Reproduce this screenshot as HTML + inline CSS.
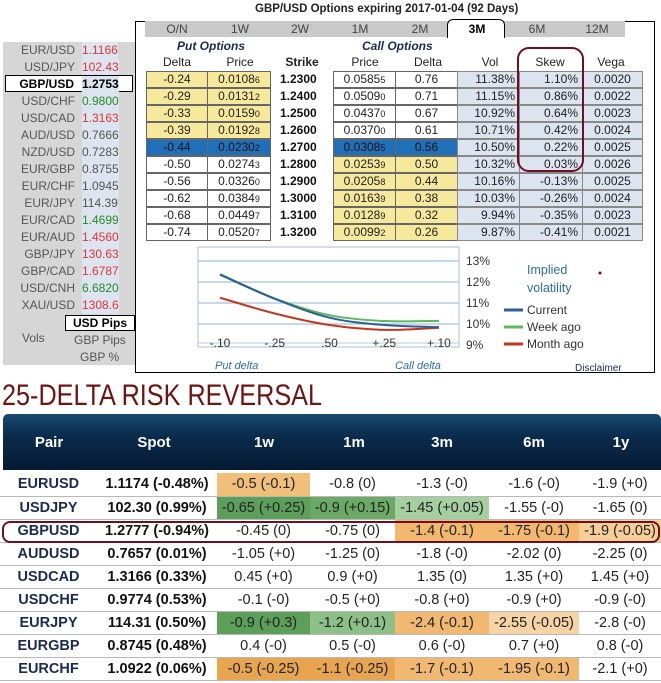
<!DOCTYPE html>
<html><head><meta charset="utf-8">
<style>
*{margin:0;padding:0;box-sizing:border-box}
body{width:661px;height:683px;background:#fff;position:relative;overflow:hidden;font-family:"Liberation Sans",Arial,sans-serif}
.a{position:absolute;white-space:nowrap}
#left{position:absolute;left:3px;top:42px;width:132px;height:323px;background:#d6d6d6}
.lp{position:absolute;font-size:12px;color:#555;line-height:17px}
.lp .n{position:absolute;right:62px;text-align:right}
.lp .v{position:absolute;left:79px}
.r{color:#e03535}.g{color:#2a8a2a}
#main{position:absolute;left:135px;top:21px;width:520px;height:352px;border:1.5px solid #000;border-top:1px solid #000}
#tabs{position:absolute;left:145px;top:21px;width:480px;height:16px;background:#c9c9c9}
.tab{position:absolute;top:22px;font-size:12px;color:#444;transform:translateX(-50%)}
.cell{position:absolute;height:17px;border:1px solid #666;font-size:12px;line-height:15px;color:#222;text-align:center}
.cell small{font-size:9px}
.y{background:#f7e99c}.w{background:#fff}.b{background:#1f70b8;color:#111}.v{background:#dce4ef;border-color:#888}
.hd{position:absolute;font-size:12px;color:#222;transform:translateX(-50%);top:55px}
table{position:absolute;left:0;top:473px;width:661px;border-collapse:collapse;table-layout:fixed}
td{height:23px;border-bottom:1px solid #b8b8b8;text-align:center;font-size:14.5px;color:#222;padding:0;white-space:nowrap;overflow:hidden}
td.p{font-weight:bold;color:#1b2a4e}
td.s{font-weight:bold;color:#111}
</style></head><body>
<div class="a" style="left:255px;top:3px;font-size:11.5px;font-weight:bold;color:#222">GBP/USD Options expiring 2017-01-04 (92 Days)</div>

<div id="left"></div>
<div id="rates"></div>
<div class="a" style="left:65px;top:315px;width:70px;height:16px;border:1px solid #000;background:#fff;font-size:12px;font-weight:bold;text-align:center;line-height:14px">USD Pips</div>
<div class="a" style="left:22px;top:331px;font-size:12px;color:#555">Vols</div>
<div class="a" style="left:74px;top:333px;font-size:12px;color:#555">GBP Pips</div>
<div class="a" style="left:80px;top:350px;font-size:12px;color:#555">GBP %</div>

<div id="main"></div>
<div id="tabs"></div>
<div class="a" style="left:447px;top:19px;width:58px;height:19px;background:#fff;border:1px solid #000;border-bottom:none;border-radius:6px 6px 0 0"></div>
<div id="tabtxt"></div>

<div class="a" style="left:177px;top:39px;font-size:12px;font-weight:bold;font-style:italic;color:#1b2a50">Put Options</div>
<div class="a" style="left:362px;top:39px;font-size:12px;font-weight:bold;font-style:italic;color:#1b2a50">Call Options</div>
<div id="hdrs"></div>
<div id="grid"></div>
<div class="a" style="left:517px;top:47px;width:67px;height:125px;border:2px solid #6a1020;border-radius:12px"></div>

<svg class="a" style="left:0;top:0" width="661" height="380">
 <g id="chart"></g>
 <text x="527" y="274" font-size="12.5" fill="#2e6ca4">Implied</text>
 <text x="527" y="292" font-size="12.5" fill="#2e6ca4">volatility</text>
 <circle cx="600" cy="273" r="1.5" fill="#6a1020"/>
 <text x="215" y="369" font-size="11" font-style="italic" fill="#2e6ca4">Put delta</text>
 <text x="395" y="369" font-size="11" font-style="italic" fill="#2e6ca4">Call delta</text>
 <text x="575" y="371" font-size="10" fill="#1b2a50">Disclaimer</text>
</svg>

<svg class="a" style="left:0;top:376px" width="340" height="34">
 <text x="2" y="29" font-size="30" fill="#6e1414" textLength="320" lengthAdjust="spacingAndGlyphs" font-family="Liberation Sans Narrow, Liberation Sans, sans-serif">25-DELTA RISK REVERSAL</text>
</svg>

<div class="a" style="left:3px;top:414px;width:658px;height:56px;border-radius:5px 5px 0 0;background:linear-gradient(#174a72,#0a2b4c 40%,#061a33)"></div>
<div id="rrh"></div>

<table>
<colgroup><col style="width:97px"><col style="width:120px"><col style="width:93px"><col style="width:85px"><col style="width:94px"><col style="width:90px"><col style="width:82px"></colgroup>
<tbody id="rrb"></tbody></table>
<div class="a" style="left:2px;top:521px;width:658px;height:22px;border:2px solid #6a1020;border-radius:8px"></div>

<script>
// left rates
const pairs=["EUR/USD","USD/JPY","GBP/USD","USD/CHF","USD/CAD","AUD/USD","NZD/USD","EUR/GBP","EUR/CHF","EUR/JPY","EUR/CAD","EUR/AUD","GBP/JPY","GBP/CAD","USD/CNH","XAU/USD"];
const rates=["1.1166","102.43","1.2753","0.9800","1.3163","0.7666","0.7283","0.8755","1.0945","114.39","1.4699","1.4560","130.63","1.6787","6.6820","1308.6"];
const rcls=["r","r","k","g","r","","","","","","g","r","r","r","g","r"];
const R=document.getElementById('rates');
pairs.forEach((p,i)=>{
 const d=document.createElement('div');d.className='lp';d.style.left='3px';d.style.top=(42+i*17)+'px';d.style.width='132px';d.style.height='17px';
 
 
 if(i===2){d.style.left='5px';d.style.width='128px';d.style.top='75px';d.style.background='#fff';d.style.border='1.5px solid #000';d.style.color='#000';d.style.fontWeight='bold';}
 d.innerHTML='<span class="n" style="right:'+(i===2?58:60)+'px">'+p+'</span><span class="v '+rcls[i]+'" style="left:'+(i===2?76:79)+'px">'+rates[i]+'</span>';
 R.appendChild(d);
});
// tabs
const tabs=["O/N","1W","2W","1M","2M","3M","6M","12M"],tx=[177,240,300,360,420,477,537,597];
const T=document.getElementById('tabtxt');
tabs.forEach((t,i)=>{const d=document.createElement('div');d.className='tab';d.style.left=tx[i]+'px';d.textContent=t;
 
 
 if(t==='3M'){d.style.fontWeight='bold';d.style.color='#000';}T.appendChild(d);});
// headers
const hs=["Delta","Price","Strike","Price","Delta","Vol","Skew","Vega"],hx=[177,240,302,365,428,490,550,611];
const H=document.getElementById('hdrs');
hs.forEach((h,i)=>{const d=document.createElement('div');d.className='hd';d.style.left=hx[i]+'px';d.textContent=h;
 
 
 if(i===2)d.style.fontWeight='bold';H.appendChild(d);});
// grid
const pD=["-0.24","-0.29","-0.33","-0.39","-0.44","-0.50","-0.56","-0.62","-0.68","-0.74"];
const pP=["0.0108|6","0.0131|2","0.0159|0","0.0192|8","0.0230|2","0.0274|3","0.0326|0","0.0384|9","0.0449|7","0.0520|7"];
const stk=["1.2300","1.2400","1.2500","1.2600","1.2700","1.2800","1.2900","1.3000","1.3100","1.3200"];
const cP=["0.0585|5","0.0509|0","0.0437|0","0.0370|0","0.0308|5","0.0253|9","0.0205|8","0.0163|9","0.0128|9","0.0099|2"];
const cD=["0.76","0.71","0.67","0.61","0.56","0.50","0.44","0.38","0.32","0.26"];
const vol=["11.38%","11.15%","10.92%","10.71%","10.50%","10.32%","10.16%","10.03%","9.94%","9.87%"];
const skew=["1.10%","0.86%","0.64%","0.42%","0.22%","0.03%","-0.13%","-0.26%","-0.35%","-0.41%"];
const vega=["0.0020","0.0022","0.0023","0.0024","0.0025","0.0026","0.0025","0.0024","0.0023","0.0021"];
const G=document.getElementById('grid');
function cell(x,w,y,cls,html,name,align){const d=document.createElement('div');d.className='cell '+cls;d.style.left=x+'px';d.style.top=y+'px';d.style.width=w+'px';d.innerHTML=html;
 if(align)d.style.textAlign=align;if(align==='right')d.style.paddingRight='4px';
 
 
 G.appendChild(d);}
const pr=s=>{const a=s.split('|');return a[0]+'<small>'+a[1]+'</small>';};
for(let i=0;i<10;i++){
 const y=71+i*17;
 const pc=i<4?'y':i===4?'b':'w', cc=i<4?'w':i===4?'b':'y';
 cell(146,62,y,pc,pD[i],'put-delta-'+i);
 cell(207,64,y,pc,pr(pP[i]),'put-price-'+i);
 const s=document.createElement('div');s.className='a';s.style.cssText='left:280px;top:'+(y+1)+'px;font-size:12px;font-weight:bold;color:#111';s.textContent=stk[i];
 
 
 G.appendChild(s);
 cell(333,63,y,cc,pr(cP[i]),'call-price-'+i);
 cell(395,63,y,cc,cD[i],'call-delta-'+i);
 cell(457,63,y,'v',vol[i],'vol-'+i,'right');
 cell(519,64,y,'v',skew[i],'skew-'+i,'right');
 cell(582,61,y,'v',vega[i],'vega-'+i);
}
// chart
const deltaLabels=["-.10","-.25",".50","+.25","+.10"];
const yTicks=[13,12,11,10,9];
const current=[12.35,11.2,10.3,9.95,9.85];
const weekAgo=[12.38,11.22,10.42,10.14,10.15];
const monthAgo=[11.25,10.5,9.95,9.72,9.82];
const NS='http://www.w3.org/2000/svg',C=document.getElementById('chart');
const X=i=>220+i*54.75, Y=v=>261+(13-v)*21;
function el(t,a){const e=document.createElementNS(NS,t);for(const k in a)e.setAttribute(k,a[k]);C.appendChild(e);return e;}
const box=el('rect',{x:198,y:247,width:261,height:100,fill:'#fff',stroke:'#a8bfd6','stroke-width':1});


yTicks.forEach(v=>{
 if(v>9){const l=el('line',{x1:198,x2:459,y1:Y(v),y2:Y(v),stroke:'#b5cbe0','stroke-width':1.5});
 
 }
 const t=el('text',{x:466,y:Y(v)+4,'font-size':12,fill:'#333'});t.textContent=v+'%';
 
 
});
el('line',{x1:198,x2:459,y1:Y(9)-2,y2:Y(9)-2,stroke:'#b5cbe0','stroke-width':1});
deltaLabels.forEach((d,i)=>{const t=el('text',{x:X(i),y:Y(9)+2,'font-size':12,fill:'#333','text-anchor':'middle'});t.textContent=d;
 
 });
function path(vals){const p=vals.map((v,i)=>[X(i),Y(v)]);let d='M'+p[0][0]+','+p[0][1];
 for(let i=0;i<p.length-1;i++){const p0=p[Math.max(0,i-1)],p1=p[i],p2=p[i+1],p3=p[Math.min(p.length-1,i+2)];
  d+=' C'+(p1[0]+(p2[0]-p0[0])/6)+','+(p1[1]+(p2[1]-p0[1])/6)+' '+(p2[0]-(p3[0]-p1[0])/6)+','+(p2[1]-(p3[1]-p1[1])/6)+' '+p2[0]+','+p2[1];}
 return d;}
const series=[[monthAgo,'#c0391f','month-ago-line'],[weekAgo,'#5cb85c','week-ago-line'],[current,'#2d5f96','current-line']];
series.forEach(s=>{const e=el('path',{d:path(s[0]),fill:'none',stroke:s[1],'stroke-width':2});
 
 });
const leg=[['Current','#2d5f96',310],['Week ago','#5cb85c',327],['Month ago','#c0391f',344]];
leg.forEach(l=>{el('line',{x1:504,x2:523,y1:l[2],y2:l[2],stroke:l[1],'stroke-width':3});
 const t=el('text',{x:527,y:l[2]+4,'font-size':12,fill:'#333'});t.textContent=l[0];
 
 });
// RR header
const rh=["Pair","Spot","1w","1m","3m","6m","1y"],rx=[49,154,264,354,442,534,621];
const RH=document.getElementById('rrh');
rh.forEach((h,i)=>{const d=document.createElement('div');d.className='a';d.style.cssText='left:'+rx[i]+'px;top:434px;transform:translateX(-50%);color:#fff;font-weight:bold;font-size:15px';d.textContent=h;
 
 RH.appendChild(d);});
const rows=[
["EURUSD","1.1174 (-0.48%)",["-0.5 (-0.1)","#f0bf7a"],["-0.8 (0)"],["-1.3 (-0)"],["-1.6 (-0)"],["-1.9 (+0)"]],
["USDJPY","102.30 (0.99%)",["-0.65 (+0.25)","#5b9f5b"],["-0.9 (+0.15)","#6aaa66"],["-1.45 (+0.05)","#a6cfa0"],["-1.55 (-0)"],["-1.65 (0)"]],
["GBPUSD","1.2777 (-0.94%)",["-0.45 (0)"],["-0.75 (0)"],["-1.4 (-0.1)","#f2b86e"],["-1.75 (-0.1)","#f2b86e"],["-1.9 (-0.05)","#f6cf98"]],
["AUDUSD","0.7657 (0.01%)",["-1.05 (+0)"],["-1.25 (0)"],["-1.8 (-0)"],["-2.02 (0)"],["-2.25 (0)"]],
["USDCAD","1.3166 (0.33%)",["0.45 (+0)"],["0.9 (+0)"],["1.35 (0)"],["1.35 (+0)"],["1.45 (+0)"]],
["USDCHF","0.9774 (0.53%)",["-0.1 (-0)"],["-0.5 (+0)"],["-0.8 (+0)"],["-0.9 (+0)"],["-0.9 (-0)"]],
["EURJPY","114.31 (0.50%)",["-0.9 (+0.3)","#5b9f5b"],["-1.2 (+0.1)","#8cc088"],["-2.4 (-0.1)","#f0b870"],["-2.55 (-0.05)","#f6d4a6"],["-2.8 (-0)"]],
["EURGBP","0.8745 (0.48%)",["0.4 (-0)"],["0.5 (-0)"],["0.6 (-0)"],["0.7 (+0)"],["0.8 (-0)"]],
["EURCHF","1.0922 (0.06%)",["-0.5 (-0.25)","#e8a550"],["-1.1 (-0.25)","#e8a550"],["-1.7 (-0.1)","#f0b870"],["-1.95 (-0.1)","#f0b870"],["-2.1 (+0)"]]];
const B=document.getElementById('rrb');
rows.forEach(r=>{const tr=document.createElement('tr');
 
 
 let h='<td class="p">'+r[0]+'</td><td class="s">'+r[1]+'</td>';
 for(let j=2;j<7;j++){h+='<td'+(r[j][1]?' style="background:'+r[j][1]+'"':'')+'>'+r[j][0]+'</td>';}
 tr.innerHTML=h;B.appendChild(tr);});
</script>
</body></html>
